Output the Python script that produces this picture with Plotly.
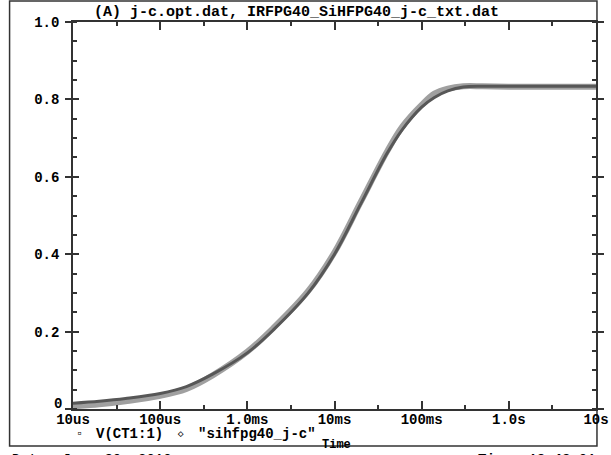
import plotly.graph_objects as go

# ---- data ----
time_s = [1e-5, 2e-5, 4e-5, 1e-4, 2e-4, 4e-4, 1e-3, 2e-3, 5e-3, 1e-2, 2e-2,
          4e-2, 6e-2, 1e-1, 1.4e-1, 2e-1, 3e-1, 5e-1, 1.0, 3.0, 10.0]
v_ct1 = [0.015, 0.020, 0.027, 0.040, 0.058, 0.090, 0.145, 0.205, 0.300, 0.400, 0.530,
         0.660, 0.722, 0.780, 0.805, 0.822, 0.832, 0.834, 0.834, 0.834, 0.834]
sihfpg40 = [0.007, 0.012, 0.020, 0.034, 0.052, 0.087, 0.148, 0.210, 0.305, 0.405, 0.535,
            0.665, 0.730, 0.786, 0.815, 0.828, 0.834, 0.834, 0.833, 0.833, 0.833]

x_tickvals = [1e-5, 1e-4, 1e-3, 1e-2, 1e-1, 1.0, 10.0]
x_ticktext = ["10us", "100us", "1.0ms", "10ms", "100ms", "1.0s", "10s"]
x_minor = [3.162e-5, 3.162e-4, 3.162e-3, 3.162e-2, 3.162e-1, 3.162]
y_tickvals = [0, 0.2, 0.4, 0.6, 0.8, 1.0]
y_ticktext = ["0", "0.2", "0.4", "0.6", "0.8", "1.0"]

title_text = "(A) j-c.opt.dat, IRFPG40_SiHFPG40_j-c_txt.dat"
FONT = "Liberation Mono"

W, H = 611, 455
pl, pr, pt, pb = 73, 609, 22, 409


def px2paper(px, py):
    return (px - pl) / (pr - pl), (pb - py) / (pb - pt)


fig = go.Figure()
fig.add_trace(go.Scatter(x=time_s, y=sihfpg40, mode="lines",
                         line=dict(color="#a0a0a0", width=6, shape="spline"),
                         name='"sihfpg40_j-c"', showlegend=False))
fig.add_trace(go.Scatter(x=time_s, y=v_ct1, mode="lines",
                         line=dict(color="#575757", width=3, shape="spline"),
                         name="V(CT1:1)", showlegend=False))
# invisible helper trace so the inside-tick overlay axis is drawn
fig.add_trace(go.Scatter(x=[time_s[0]], y=[v_ct1[0]], yaxis="y2", mode="markers",
                         marker=dict(opacity=0), hoverinfo="skip", showlegend=False))

tfont = dict(family=FONT, size=14, weight="bold", color="black")

# the "0" label sits slightly raised in the reference, drawn separately below
y_ticktext_axis = [""] + y_ticktext[1:]

fig.update_layout(
    width=W, height=H,
    margin=dict(l=pl, r=W - pr, t=pt, b=H - pb),
    paper_bgcolor="white", plot_bgcolor="white",
    font=dict(family=FONT, size=14, color="black"),
    xaxis=dict(type="log", range=[-5, 1], tickvals=x_tickvals, ticktext=x_ticktext,
               ticks="inside", ticklen=8, tickwidth=1.5, tickcolor="#333",
               minor=dict(tickvals=x_minor, ticks="inside", ticklen=4, tickwidth=1.5, tickcolor="#333"),
               showline=True, linecolor="#333", linewidth=1.5, mirror="ticks",
               showgrid=False, zeroline=False, tickfont=tfont, ticklabelstandoff=-4,
               ticklabeloverflow="allow"),
    yaxis=dict(range=[0, 1], tickvals=y_tickvals, ticktext=y_ticktext_axis,
               ticks="outside", ticklen=6, tickwidth=1.5, tickcolor="#333",
               minor=dict(dtick=0.05, ticks="inside", ticklen=4, tickwidth=1.5, tickcolor="#333"),
               showline=True, linecolor="#333", linewidth=1.5, mirror="ticks",
               showgrid=False, zeroline=False, tickfont=tfont, ticklabelstandoff=3),
    yaxis2=dict(range=[0, 1], overlaying="y", side="left", tickvals=y_tickvals, showticklabels=False,
                ticks="inside", ticklen=6, tickwidth=1.5, tickcolor="#333",
                showline=False, showgrid=False, zeroline=False),
)

# outer frame
x0, y0 = px2paper(8, 446)
x1, y1 = px2paper(610, 1)
fig.add_shape(type="rect", xref="paper", yref="paper", x0=x0, x1=x1, y0=y0, y1=y1,
              line=dict(color="#333", width=1.5), fillcolor="rgba(0,0,0,0)", layer="below")

# text items: (text, px, py, anchor, size)
texts = [
    (title_text, 302, 12, "center", 15),
    (y_ticktext[0], 64, 404, "right", 14),
    ("\u25ab", 80, 434, "center", 12),
    ("V(CT1:1)", 95, 434, "left", 14),
    ("\u25c7", 183, 434, "center", 7),
    ('"sihfpg40_j-c"', 199, 434, "left", 14),
    ("Time", 343, 445, "center", 12),
    ("Date: June 30, 2010", 8, 460, "left", 14),
    ("Time: 13:43:01", 611, 460, "right", 14),
]
for txt, px, py, anc, size in texts:
    ax, ay = px2paper(px, py)
    fig.add_annotation(text=txt, showarrow=False, xref="paper", yref="paper",
                       x=ax, y=ay, xanchor=anc, yanchor="middle",
                       font=dict(family=FONT, size=size, weight="bold", color="black"))

fig.write_html("out.html", config={"displayModeBar": False},
               post_script="document.body.style.margin='0';document.body.style.overflow='hidden';")
